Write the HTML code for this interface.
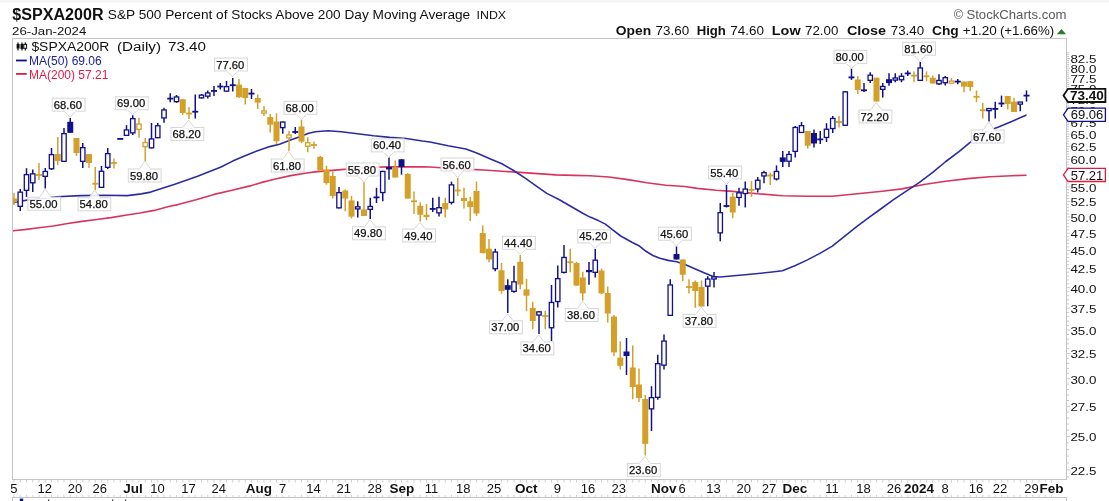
<!DOCTYPE html>
<html><head><meta charset="utf-8"><style>
html,body{margin:0;padding:0;background:#fff;}
body{width:1109px;height:501px;overflow:hidden;}
svg{display:block;filter:blur(0.35px);}
text{font-family:"Liberation Sans",sans-serif;}
.m{font-family:"Liberation Mono",monospace;}
</style></head><body>
<svg width="1109" height="501" viewBox="0 0 1109 501">
<defs><clipPath id="cp"><rect x="13" y="39" width="1053" height="440"/></clipPath></defs>
<rect x="0" y="0" width="1109" height="501" fill="#fff"/>
<rect x="0" y="0" width="1109" height="2.5" fill="#f4f4f4"/>

<text x="12.3" y="19.9" font-size="16" font-weight="bold" textLength="91.2" lengthAdjust="spacingAndGlyphs" fill="#111">$SPXA200R</text>
<text x="107.8" y="18.9" font-size="13" textLength="362.4" lengthAdjust="spacingAndGlyphs" fill="#111">S&amp;P 500 Percent of Stocks Above 200 Day Moving Average</text>
<text x="476.5" y="18.9" font-size="11.3" textLength="29.6" lengthAdjust="spacingAndGlyphs" fill="#111">INDX</text>
<text x="12.1" y="35.3" font-size="11.6" textLength="74.2" lengthAdjust="spacingAndGlyphs" fill="#111">26-Jan-2024</text>
<text x="953.8" y="19.1" font-size="12.5" fill="#5a5a5a">©</text>
<text x="966.4" y="19.1" font-size="13" textLength="100.2" lengthAdjust="spacingAndGlyphs" fill="#5a5a5a">StockCharts.com</text>
<text x="615.8" y="34.9" font-size="13.5" font-weight="bold" textLength="35.4" lengthAdjust="spacingAndGlyphs" fill="#111">Open</text>
<text x="655.6" y="34.9" font-size="13" textLength="33.6" lengthAdjust="spacingAndGlyphs" fill="#111">73.60</text>
<text x="696.7" y="34.9" font-size="13.5" font-weight="bold" textLength="29.2" lengthAdjust="spacingAndGlyphs" fill="#111">High</text>
<text x="730.3" y="34.9" font-size="13" textLength="33.8" lengthAdjust="spacingAndGlyphs" fill="#111">74.60</text>
<text x="771.8" y="34.9" font-size="13.5" font-weight="bold" textLength="28.8" lengthAdjust="spacingAndGlyphs" fill="#111">Low</text>
<text x="805" y="34.9" font-size="13" textLength="33.4" lengthAdjust="spacingAndGlyphs" fill="#111">72.00</text>
<text x="846.9" y="34.9" font-size="13.5" font-weight="bold" textLength="39.2" lengthAdjust="spacingAndGlyphs" fill="#111">Close</text>
<text x="890.8" y="34.9" font-size="13" textLength="33.3" lengthAdjust="spacingAndGlyphs" fill="#111">73.40</text>
<text x="932" y="34.9" font-size="13.5" font-weight="bold" textLength="26.8" lengthAdjust="spacingAndGlyphs" fill="#111">Chg</text>
<text x="962.7" y="34.9" font-size="13" textLength="34.2" lengthAdjust="spacingAndGlyphs" fill="#111">+1.20</text>
<text x="999.9" y="34.9" font-size="13" textLength="54.4" lengthAdjust="spacingAndGlyphs" fill="#111">(+1.66%)</text>
<polygon points="1056.8,34.2 1066.1,34.2 1061.45,29" fill="#2a7a2a"/>
<rect x="12.5" y="38.5" width="1054" height="441" fill="none" stroke="#c4c4c4" stroke-width="1"/>
<line x1="12.5" y1="497" x2="12.5" y2="501" stroke="#c4c4c4"/>
<line x1="1066.5" y1="497" x2="1066.5" y2="501" stroke="#c4c4c4"/>
<line x1="12" y1="497.5" x2="1067" y2="497.5" stroke="#c4c4c4"/>
<path d="M14.00 480v2.5M14.00 495v2.5M20.25 480v2.5M20.25 495v2.5M26.50 480v2.5M26.50 495v2.5M32.75 480v2.5M32.75 495v2.5M39.00 480v2.5M39.00 495v2.5M45.25 480v2.5M45.25 495v2.5M51.50 480v2.5M51.50 495v2.5M57.75 480v2.5M57.75 495v2.5M64.00 480v2.5M64.00 495v2.5M70.25 480v2.5M70.25 495v2.5M76.50 480v2.5M76.50 495v2.5M82.75 480v2.5M82.75 495v2.5M89.00 480v2.5M89.00 495v2.5M95.25 480v2.5M95.25 495v2.5M101.50 480v2.5M101.50 495v2.5M107.75 480v2.5M107.75 495v2.5M114.00 480v2.5M114.00 495v2.5M120.25 480v2.5M120.25 495v2.5M126.50 480v2.5M126.50 495v2.5M132.75 480v2.5M132.75 495v2.5M139.00 480v2.5M139.00 495v2.5M145.25 480v2.5M145.25 495v2.5M151.50 480v2.5M151.50 495v2.5M157.75 480v2.5M157.75 495v2.5M164.00 480v2.5M164.00 495v2.5M170.25 480v2.5M170.25 495v2.5M176.50 480v2.5M176.50 495v2.5M182.75 480v2.5M182.75 495v2.5M189.00 480v2.5M189.00 495v2.5M195.25 480v2.5M195.25 495v2.5M201.50 480v2.5M201.50 495v2.5M207.75 480v2.5M207.75 495v2.5M214.00 480v2.5M214.00 495v2.5M220.25 480v2.5M220.25 495v2.5M226.50 480v2.5M226.50 495v2.5M232.75 480v2.5M232.75 495v2.5M239.00 480v2.5M239.00 495v2.5M245.25 480v2.5M245.25 495v2.5M251.50 480v2.5M251.50 495v2.5M257.75 480v2.5M257.75 495v2.5M264.00 480v2.5M264.00 495v2.5M270.25 480v2.5M270.25 495v2.5M276.50 480v2.5M276.50 495v2.5M282.75 480v2.5M282.75 495v2.5M289.00 480v2.5M289.00 495v2.5M295.25 480v2.5M295.25 495v2.5M301.50 480v2.5M301.50 495v2.5M307.75 480v2.5M307.75 495v2.5M314.00 480v2.5M314.00 495v2.5M320.25 480v2.5M320.25 495v2.5M326.50 480v2.5M326.50 495v2.5M332.75 480v2.5M332.75 495v2.5M339.00 480v2.5M339.00 495v2.5M345.25 480v2.5M345.25 495v2.5M351.50 480v2.5M351.50 495v2.5M357.75 480v2.5M357.75 495v2.5M364.00 480v2.5M364.00 495v2.5M370.25 480v2.5M370.25 495v2.5M376.50 480v2.5M376.50 495v2.5M382.75 480v2.5M382.75 495v2.5M389.00 480v2.5M389.00 495v2.5M395.25 480v2.5M395.25 495v2.5M401.50 480v2.5M401.50 495v2.5M407.75 480v2.5M407.75 495v2.5M414.00 480v2.5M414.00 495v2.5M420.25 480v2.5M420.25 495v2.5M426.50 480v2.5M426.50 495v2.5M432.75 480v2.5M432.75 495v2.5M439.00 480v2.5M439.00 495v2.5M445.25 480v2.5M445.25 495v2.5M451.50 480v2.5M451.50 495v2.5M457.75 480v2.5M457.75 495v2.5M464.00 480v2.5M464.00 495v2.5M470.25 480v2.5M470.25 495v2.5M476.50 480v2.5M476.50 495v2.5M482.75 480v2.5M482.75 495v2.5M489.00 480v2.5M489.00 495v2.5M495.25 480v2.5M495.25 495v2.5M501.50 480v2.5M501.50 495v2.5M507.75 480v2.5M507.75 495v2.5M514.00 480v2.5M514.00 495v2.5M520.25 480v2.5M520.25 495v2.5M526.50 480v2.5M526.50 495v2.5M532.75 480v2.5M532.75 495v2.5M539.00 480v2.5M539.00 495v2.5M545.25 480v2.5M545.25 495v2.5M551.50 480v2.5M551.50 495v2.5M557.75 480v2.5M557.75 495v2.5M564.00 480v2.5M564.00 495v2.5M570.25 480v2.5M570.25 495v2.5M576.50 480v2.5M576.50 495v2.5M582.75 480v2.5M582.75 495v2.5M589.00 480v2.5M589.00 495v2.5M595.25 480v2.5M595.25 495v2.5M601.50 480v2.5M601.50 495v2.5M607.75 480v2.5M607.75 495v2.5M614.00 480v2.5M614.00 495v2.5M620.25 480v2.5M620.25 495v2.5M626.50 480v2.5M626.50 495v2.5M632.75 480v2.5M632.75 495v2.5M639.00 480v2.5M639.00 495v2.5M645.25 480v2.5M645.25 495v2.5M651.50 480v2.5M651.50 495v2.5M657.75 480v2.5M657.75 495v2.5M664.00 480v2.5M664.00 495v2.5M670.25 480v2.5M670.25 495v2.5M676.50 480v2.5M676.50 495v2.5M682.75 480v2.5M682.75 495v2.5M689.00 480v2.5M689.00 495v2.5M695.25 480v2.5M695.25 495v2.5M701.50 480v2.5M701.50 495v2.5M707.75 480v2.5M707.75 495v2.5M714.00 480v2.5M714.00 495v2.5M720.25 480v2.5M720.25 495v2.5M726.50 480v2.5M726.50 495v2.5M732.75 480v2.5M732.75 495v2.5M739.00 480v2.5M739.00 495v2.5M745.25 480v2.5M745.25 495v2.5M751.50 480v2.5M751.50 495v2.5M757.75 480v2.5M757.75 495v2.5M764.00 480v2.5M764.00 495v2.5M770.25 480v2.5M770.25 495v2.5M776.50 480v2.5M776.50 495v2.5M782.75 480v2.5M782.75 495v2.5M789.00 480v2.5M789.00 495v2.5M795.25 480v2.5M795.25 495v2.5M801.50 480v2.5M801.50 495v2.5M807.75 480v2.5M807.75 495v2.5M814.00 480v2.5M814.00 495v2.5M820.25 480v2.5M820.25 495v2.5M826.50 480v2.5M826.50 495v2.5M832.75 480v2.5M832.75 495v2.5M839.00 480v2.5M839.00 495v2.5M845.25 480v2.5M845.25 495v2.5M851.50 480v2.5M851.50 495v2.5M857.75 480v2.5M857.75 495v2.5M864.00 480v2.5M864.00 495v2.5M870.25 480v2.5M870.25 495v2.5M876.50 480v2.5M876.50 495v2.5M882.75 480v2.5M882.75 495v2.5M889.00 480v2.5M889.00 495v2.5M895.25 480v2.5M895.25 495v2.5M901.50 480v2.5M901.50 495v2.5M907.75 480v2.5M907.75 495v2.5M914.00 480v2.5M914.00 495v2.5M920.25 480v2.5M920.25 495v2.5M926.50 480v2.5M926.50 495v2.5M932.75 480v2.5M932.75 495v2.5M939.00 480v2.5M939.00 495v2.5M945.25 480v2.5M945.25 495v2.5M951.50 480v2.5M951.50 495v2.5M957.75 480v2.5M957.75 495v2.5M964.00 480v2.5M964.00 495v2.5M970.25 480v2.5M970.25 495v2.5M976.50 480v2.5M976.50 495v2.5M982.75 480v2.5M982.75 495v2.5M989.00 480v2.5M989.00 495v2.5M995.25 480v2.5M995.25 495v2.5M1001.50 480v2.5M1001.50 495v2.5M1007.75 480v2.5M1007.75 495v2.5M1014.00 480v2.5M1014.00 495v2.5M1020.25 480v2.5M1020.25 495v2.5M1026.50 480v2.5M1026.50 495v2.5M1032.75 480v2.5M1032.75 495v2.5M1039.00 480v2.5M1039.00 495v2.5M1045.25 480v2.5M1045.25 495v2.5M1051.50 480v2.5M1051.50 495v2.5" stroke="#cfcfcf" stroke-width="1" fill="none"/>
<text x="13.9" y="492.5" font-size="13" text-anchor="middle" fill="#111">5</text>
<text x="44.8" y="492.5" font-size="13" text-anchor="middle" fill="#111">12</text>
<text x="74.9" y="492.5" font-size="13" text-anchor="middle" fill="#111">20</text>
<text x="99.7" y="492.5" font-size="13" text-anchor="middle" fill="#111">26</text>
<text x="133" y="492.5" font-size="13.5" font-weight="bold" text-anchor="middle" fill="#111">Jul</text>
<text x="157.5" y="492.5" font-size="13" text-anchor="middle" fill="#111">10</text>
<text x="188.4" y="492.5" font-size="13" text-anchor="middle" fill="#111">17</text>
<text x="218.8" y="492.5" font-size="13" text-anchor="middle" fill="#111">24</text>
<text x="258.8" y="492.5" font-size="13.5" font-weight="bold" text-anchor="middle" fill="#111">Aug</text>
<text x="282.7" y="492.5" font-size="13" text-anchor="middle" fill="#111">7</text>
<text x="313.6" y="492.5" font-size="13" text-anchor="middle" fill="#111">14</text>
<text x="343.8" y="492.5" font-size="13" text-anchor="middle" fill="#111">21</text>
<text x="374.8" y="492.5" font-size="13" text-anchor="middle" fill="#111">28</text>
<text x="401.8" y="492.5" font-size="13.5" font-weight="bold" text-anchor="middle" fill="#111">Sep</text>
<text x="431.6" y="492.5" font-size="13" text-anchor="middle" fill="#111">11</text>
<text x="463.2" y="492.5" font-size="13" text-anchor="middle" fill="#111">18</text>
<text x="494.1" y="492.5" font-size="13" text-anchor="middle" fill="#111">25</text>
<text x="526.3" y="492.5" font-size="13.5" font-weight="bold" text-anchor="middle" fill="#111">Oct</text>
<text x="557.3" y="492.5" font-size="13" text-anchor="middle" fill="#111">9</text>
<text x="588.1" y="492.5" font-size="13" text-anchor="middle" fill="#111">16</text>
<text x="618.7" y="492.5" font-size="13" text-anchor="middle" fill="#111">23</text>
<text x="663.8" y="492.5" font-size="13.5" font-weight="bold" text-anchor="middle" fill="#111">Nov</text>
<text x="682.2" y="492.5" font-size="13" text-anchor="middle" fill="#111">6</text>
<text x="713.4" y="492.5" font-size="13" text-anchor="middle" fill="#111">13</text>
<text x="743.7" y="492.5" font-size="13" text-anchor="middle" fill="#111">20</text>
<text x="768.9" y="492.5" font-size="13" text-anchor="middle" fill="#111">27</text>
<text x="795" y="492.5" font-size="13.5" font-weight="bold" text-anchor="middle" fill="#111">Dec</text>
<text x="832" y="492.5" font-size="13" text-anchor="middle" fill="#111">11</text>
<text x="863.4" y="492.5" font-size="13" text-anchor="middle" fill="#111">18</text>
<text x="894" y="492.5" font-size="13" text-anchor="middle" fill="#111">26</text>
<text x="919.1" y="492.5" font-size="13.5" font-weight="bold" text-anchor="middle" fill="#111">2024</text>
<text x="945.1" y="492.5" font-size="13" text-anchor="middle" fill="#111">8</text>
<text x="975.9" y="492.5" font-size="13" text-anchor="middle" fill="#111">16</text>
<text x="1000" y="492.5" font-size="13" text-anchor="middle" fill="#111">22</text>
<text x="1031.5" y="492.5" font-size="13" text-anchor="middle" fill="#111">29</text>
<text x="1051.4" y="492.5" font-size="13.5" font-weight="bold" text-anchor="middle" fill="#111">Feb</text>
<path d="M1067 476.98h2M1067 469.86h3M1067 462.90h2M1067 456.09h2M1067 449.43h2M1067 442.90h2M1067 436.50h3M1067 430.23h2M1067 424.09h2M1067 418.06h2M1067 412.14h2M1067 406.33h3M1067 400.62h2M1067 395.02h2M1067 389.51h2M1067 384.10h2M1067 378.78h3M1067 373.55h2M1067 368.40h2M1067 363.33h2M1067 358.35h2M1067 353.44h3M1067 348.61h2M1067 343.84h2M1067 339.15h2M1067 334.53h2M1067 329.98h3M1067 325.49h2M1067 321.06h2M1067 316.69h2M1067 312.38h2M1067 308.13h3M1067 303.94h2M1067 299.80h2M1067 295.72h2M1067 291.68h2M1067 287.70h3M1067 283.77h2M1067 279.88h2M1067 276.05h2M1067 272.25h2M1067 268.51h3M1067 264.80h2M1067 261.14h2M1067 257.53h2M1067 253.95h2M1067 250.41h3M1067 246.91h2M1067 243.45h2M1067 240.03h2M1067 236.64h2M1067 233.29h3M1067 229.98h2M1067 226.70h2M1067 223.45h2M1067 220.24h2M1067 217.05h3M1067 213.90h2M1067 210.78h2M1067 207.70h2M1067 204.64h2M1067 201.61h3M1067 198.61h2M1067 195.63h2M1067 192.69h2M1067 189.77h2M1067 186.88h3M1067 184.01h2M1067 181.17h2M1067 178.36h2M1067 175.57h2M1067 172.80h3M1067 170.06h2M1067 167.35h2M1067 164.65h2M1067 161.98h2M1067 159.33h3M1067 156.70h2M1067 154.10h2M1067 151.51h2M1067 148.95h2M1067 146.41h3M1067 143.88h2M1067 141.38h2M1067 138.90h2M1067 136.43h2M1067 133.99h3M1067 131.56h2M1067 129.16h2M1067 126.77h2M1067 124.39h2M1067 122.04h3M1067 119.70h2M1067 117.38h2M1067 115.08h2M1067 112.80h2M1067 110.53h3M1067 108.27h2M1067 106.04h2M1067 103.81h2M1067 101.61h2M1067 99.42h3M1067 97.24h2M1067 95.08h2M1067 92.93h2M1067 90.80h2M1067 88.68h3M1067 86.58h2M1067 84.49h2M1067 82.41h2M1067 80.35h2M1067 78.30h3M1067 76.27h2M1067 74.24h2M1067 72.23h2M1067 70.24h2M1067 68.25h3M1067 66.28h2M1067 64.32h2M1067 62.37h2M1067 60.43h2M1067 58.51h3M1067 56.60h2M1067 54.69h2M1067 52.80h2" stroke="#c8c8c8" stroke-width="1" fill="none"/>
<text x="1070.4" y="474.66" font-size="11.6" textLength="26" lengthAdjust="spacingAndGlyphs" fill="#111">22.5</text>
<text x="1070.4" y="441.30" font-size="11.6" textLength="26" lengthAdjust="spacingAndGlyphs" fill="#111">25.0</text>
<text x="1070.4" y="411.13" font-size="11.6" textLength="26" lengthAdjust="spacingAndGlyphs" fill="#111">27.5</text>
<text x="1070.4" y="383.58" font-size="11.6" textLength="26" lengthAdjust="spacingAndGlyphs" fill="#111">30.0</text>
<text x="1070.4" y="358.24" font-size="11.6" textLength="26" lengthAdjust="spacingAndGlyphs" fill="#111">32.5</text>
<text x="1070.4" y="334.78" font-size="11.6" textLength="26" lengthAdjust="spacingAndGlyphs" fill="#111">35.0</text>
<text x="1070.4" y="312.93" font-size="11.6" textLength="26" lengthAdjust="spacingAndGlyphs" fill="#111">37.5</text>
<text x="1070.4" y="292.50" font-size="11.6" textLength="26" lengthAdjust="spacingAndGlyphs" fill="#111">40.0</text>
<text x="1070.4" y="273.31" font-size="11.6" textLength="26" lengthAdjust="spacingAndGlyphs" fill="#111">42.5</text>
<text x="1070.4" y="255.21" font-size="11.6" textLength="26" lengthAdjust="spacingAndGlyphs" fill="#111">45.0</text>
<text x="1070.4" y="238.09" font-size="11.6" textLength="26" lengthAdjust="spacingAndGlyphs" fill="#111">47.5</text>
<text x="1070.4" y="221.85" font-size="11.6" textLength="26" lengthAdjust="spacingAndGlyphs" fill="#111">50.0</text>
<text x="1070.4" y="206.41" font-size="11.6" textLength="26" lengthAdjust="spacingAndGlyphs" fill="#111">52.5</text>
<text x="1070.4" y="191.68" font-size="11.6" textLength="26" lengthAdjust="spacingAndGlyphs" fill="#111">55.0</text>
<text x="1070.4" y="177.60" font-size="11.6" textLength="26" lengthAdjust="spacingAndGlyphs" fill="#111">57.5</text>
<text x="1070.4" y="164.13" font-size="11.6" textLength="26" lengthAdjust="spacingAndGlyphs" fill="#111">60.0</text>
<text x="1070.4" y="151.21" font-size="11.6" textLength="26" lengthAdjust="spacingAndGlyphs" fill="#111">62.5</text>
<text x="1070.4" y="138.79" font-size="11.6" textLength="26" lengthAdjust="spacingAndGlyphs" fill="#111">65.0</text>
<text x="1070.4" y="126.84" font-size="11.6" textLength="26" lengthAdjust="spacingAndGlyphs" fill="#111">67.5</text>
<text x="1070.4" y="115.33" font-size="11.6" textLength="26" lengthAdjust="spacingAndGlyphs" fill="#111">70.0</text>
<text x="1070.4" y="104.22" font-size="11.6" textLength="26" lengthAdjust="spacingAndGlyphs" fill="#111">72.5</text>
<text x="1070.4" y="93.48" font-size="11.6" textLength="26" lengthAdjust="spacingAndGlyphs" fill="#111">75.0</text>
<text x="1070.4" y="83.10" font-size="11.6" textLength="26" lengthAdjust="spacingAndGlyphs" fill="#111">77.5</text>
<text x="1070.4" y="73.05" font-size="11.6" textLength="26" lengthAdjust="spacingAndGlyphs" fill="#111">80.0</text>
<text x="1070.4" y="63.31" font-size="11.6" textLength="26" lengthAdjust="spacingAndGlyphs" fill="#111">82.5</text>
<g clip-path="url(#cp)">
<polyline points="12.3,230.8 24.4,229.6 38.9,227.8 53.3,226.0 67.7,223.5 82.2,221.4 96.6,219.5 111.0,217.6 125.4,215.2 139.9,213.0 154.3,210.4 168.7,206.5 178.0,204.6 196.1,199.8 214.1,194.4 232.1,190.3 250.2,185.9 260.0,182.9 274.4,179.3 290.6,175.6 306.8,173.0 315.0,171.9 323.0,171.1 341.2,169.6 357.4,168.2 373.6,167.3 389.8,166.9 406.1,166.9 422.3,166.9 430.0,167.0 448.0,168.2 465.9,169.1 483.9,170.0 501.9,171.3 519.8,172.4 537.8,173.6 555.8,174.9 573.8,175.4 590.0,175.8 608.9,177.0 627.9,179.6 646.8,182.7 665.8,185.3 684.7,186.5 697.3,188.4 716.3,190.3 732.5,191.4 757.4,193.7 782.4,195.7 807.4,196.2 832.3,196.2 844.8,195.0 857.3,193.7 882.3,191.2 901.9,188.9 923.9,184.5 945.8,181.2 967.8,178.6 989.7,176.8 1011.7,175.7 1026.5,175.2" fill="none" stroke="#d8345e" stroke-width="1.6" stroke-linejoin="round"/>
<polyline points="12.3,202.8 28.8,199.8 56.9,196.7 80.3,195.6 103.8,195.3 127.2,195.6 141.3,193.9 150.7,192.1 174.1,184.5 197.6,176.3 221.0,167.0 232.7,161.1 244.5,155.9 256.2,151.3 269.7,146.6 279.5,144.2 289.2,140.6 299.0,136.9 308.7,133.3 315.2,131.7 328.2,130.7 341.2,131.7 357.4,133.7 373.6,135.8 389.8,137.4 406.1,138.5 422.3,141.0 430.0,142.0 448.0,145.8 465.9,149.0 476.7,153.0 489.3,158.4 501.9,163.8 512.7,170.0 525.2,178.1 537.8,187.1 546.8,193.4 559.4,199.7 570.2,206.0 582.7,213.2 590.0,217.1 598.4,220.6 605.4,224.1 612.4,229.7 620.7,236.0 631.9,242.2 638.9,245.7 645.9,251.3 652.9,255.5 659.9,258.3 668.2,260.4 676.6,261.8 685.0,264.6 694.8,268.8 704.6,273.0 713.0,276.5 720.0,277.0 745.0,274.8 769.9,272.3 782.4,270.8 794.9,265.8 807.4,259.9 819.9,253.4 832.3,246.1 844.8,236.1 857.3,226.2 869.8,216.9 880.0,209.5 893.2,199.9 906.3,191.1 919.5,182.3 932.7,172.4 945.8,161.5 959.0,151.6 972.2,140.6 985.4,131.8 998.5,127.0 1011.7,121.5 1026.5,114.9" fill="none" stroke="#2c2ca2" stroke-width="1.6" stroke-linejoin="round"/>
<line x1="14.00" y1="192.7" x2="14.00" y2="205.0" stroke="#d4a02a" stroke-width="1.5"/>
<rect x="11.00" y="198.5" width="6" height="4.0" fill="#d4a02a"/>
<line x1="20.25" y1="189.0" x2="20.25" y2="211.0" stroke="#10108c" stroke-width="1.5"/>
<rect x="18.05" y="192.15" width="4.4" height="14.20" fill="#fff" stroke="#10108c" stroke-width="1.3"/>
<line x1="26.50" y1="168.2" x2="26.50" y2="196.9" stroke="#10108c" stroke-width="1.5"/>
<rect x="24.30" y="174.65" width="4.4" height="15.70" fill="#fff" stroke="#10108c" stroke-width="1.3"/>
<line x1="32.75" y1="169.4" x2="32.75" y2="192.0" stroke="#10108c" stroke-width="1.5"/>
<rect x="30.55" y="173.85" width="4.4" height="9.00" fill="#fff" stroke="#10108c" stroke-width="1.3"/>
<line x1="39.00" y1="163.1" x2="39.00" y2="180.0" stroke="#d4a02a" stroke-width="1.5"/>
<rect x="36.00" y="174.1" width="6" height="1.8" fill="#d4a02a"/>
<line x1="45.25" y1="168.0" x2="45.25" y2="188.5" stroke="#10108c" stroke-width="1.5"/>
<rect x="43.05" y="171.45" width="4.4" height="4.90" fill="#fff" stroke="#10108c" stroke-width="1.3"/>
<line x1="51.50" y1="148.0" x2="51.50" y2="170.0" stroke="#10108c" stroke-width="1.5"/>
<rect x="49.30" y="154.65" width="4.4" height="14.10" fill="#fff" stroke="#10108c" stroke-width="1.3"/>
<line x1="57.75" y1="137.0" x2="57.75" y2="165.0" stroke="#d4a02a" stroke-width="1.5"/>
<rect x="54.75" y="154.0" width="6" height="7.0" fill="#d4a02a"/>
<line x1="64.00" y1="128.0" x2="64.00" y2="162.0" stroke="#10108c" stroke-width="1.5"/>
<rect x="61.80" y="133.65" width="4.4" height="27.70" fill="#fff" stroke="#10108c" stroke-width="1.3"/>
<line x1="70.25" y1="118.0" x2="70.25" y2="133.0" stroke="#10108c" stroke-width="1.5"/>
<rect x="67.25" y="121.8" width="6" height="11.0" fill="#10108c"/>
<line x1="76.50" y1="138.0" x2="76.50" y2="156.0" stroke="#d4a02a" stroke-width="1.5"/>
<rect x="73.50" y="138.0" width="6" height="15.0" fill="#d4a02a"/>
<line x1="82.75" y1="143.0" x2="82.75" y2="168.0" stroke="#10108c" stroke-width="1.5"/>
<rect x="80.55" y="147.65" width="4.4" height="13.70" fill="#fff" stroke="#10108c" stroke-width="1.3"/>
<line x1="89.00" y1="154.0" x2="89.00" y2="168.0" stroke="#d4a02a" stroke-width="1.5"/>
<rect x="86.00" y="154.0" width="6" height="9.0" fill="#d4a02a"/>
<line x1="95.25" y1="167.0" x2="95.25" y2="190.0" stroke="#d4a02a" stroke-width="1.5"/>
<rect x="92.25" y="182.8" width="6" height="1.8" fill="#d4a02a"/>
<line x1="101.50" y1="166.0" x2="101.50" y2="188.0" stroke="#10108c" stroke-width="1.5"/>
<rect x="99.30" y="171.25" width="4.4" height="16.10" fill="#fff" stroke="#10108c" stroke-width="1.3"/>
<line x1="107.75" y1="148.0" x2="107.75" y2="169.0" stroke="#10108c" stroke-width="1.5"/>
<rect x="105.55" y="153.65" width="4.4" height="13.70" fill="#fff" stroke="#10108c" stroke-width="1.3"/>
<line x1="114.00" y1="158.6" x2="114.00" y2="168.5" stroke="#d4a02a" stroke-width="1.5"/>
<rect x="111.00" y="162.1" width="6" height="1.8" fill="#d4a02a"/>
<line x1="120.25" y1="138.9" x2="120.25" y2="138.9" stroke="#10108c" stroke-width="1.5"/>
<rect x="117.25" y="138.0" width="6" height="1.8" fill="#10108c"/>
<line x1="126.50" y1="125.1" x2="126.50" y2="136.0" stroke="#10108c" stroke-width="1.5"/>
<rect x="124.30" y="129.95" width="4.4" height="5.40" fill="#fff" stroke="#10108c" stroke-width="1.3"/>
<line x1="132.75" y1="115.3" x2="132.75" y2="135.0" stroke="#10108c" stroke-width="1.5"/>
<rect x="130.55" y="118.65" width="4.4" height="14.20" fill="#fff" stroke="#10108c" stroke-width="1.3"/>
<line x1="139.00" y1="118.0" x2="139.00" y2="137.7" stroke="#d4a02a" stroke-width="1.5"/>
<rect x="136.80" y="124.05" width="4.4" height="5.30" fill="#fff" stroke="#d4a02a" stroke-width="1.3"/>
<line x1="145.25" y1="138.1" x2="145.25" y2="161.0" stroke="#d4a02a" stroke-width="1.5"/>
<rect x="143.05" y="142.55" width="4.4" height="4.10" fill="#fff" stroke="#d4a02a" stroke-width="1.3"/>
<line x1="151.50" y1="123.0" x2="151.50" y2="148.5" stroke="#10108c" stroke-width="1.5"/>
<rect x="149.30" y="138.95" width="4.4" height="8.90" fill="#fff" stroke="#10108c" stroke-width="1.3"/>
<line x1="157.75" y1="123.0" x2="157.75" y2="138.3" stroke="#10108c" stroke-width="1.5"/>
<rect x="155.55" y="125.75" width="4.4" height="11.90" fill="#fff" stroke="#10108c" stroke-width="1.3"/>
<line x1="164.00" y1="107.8" x2="164.00" y2="122.8" stroke="#10108c" stroke-width="1.5"/>
<rect x="161.80" y="109.95" width="4.4" height="8.00" fill="#fff" stroke="#10108c" stroke-width="1.3"/>
<line x1="170.25" y1="93.2" x2="170.25" y2="102.2" stroke="#10108c" stroke-width="1.5"/>
<rect x="167.25" y="97.7" width="6" height="1.8" fill="#10108c"/>
<line x1="176.50" y1="95.0" x2="176.50" y2="102.8" stroke="#10108c" stroke-width="1.5"/>
<rect x="174.30" y="96.95" width="4.4" height="4.70" fill="#fff" stroke="#10108c" stroke-width="1.3"/>
<line x1="182.75" y1="99.0" x2="182.75" y2="114.8" stroke="#d4a02a" stroke-width="1.5"/>
<rect x="179.75" y="99.2" width="6" height="13.8" fill="#d4a02a"/>
<line x1="189.00" y1="107.0" x2="189.00" y2="119.0" stroke="#d4a02a" stroke-width="1.5"/>
<rect x="186.00" y="112.6" width="6" height="1.8" fill="#d4a02a"/>
<line x1="195.25" y1="94.5" x2="195.25" y2="118.4" stroke="#10108c" stroke-width="1.5"/>
<rect x="192.25" y="110.8" width="6" height="1.8" fill="#10108c"/>
<line x1="201.50" y1="94.0" x2="201.50" y2="98.8" stroke="#10108c" stroke-width="1.5"/>
<rect x="199.30" y="95.15" width="4.4" height="2.70" fill="#fff" stroke="#10108c" stroke-width="1.3"/>
<line x1="207.75" y1="90.5" x2="207.75" y2="98.6" stroke="#10108c" stroke-width="1.5"/>
<rect x="205.55" y="92.95" width="4.4" height="3.20" fill="#fff" stroke="#10108c" stroke-width="1.3"/>
<line x1="214.00" y1="86.0" x2="214.00" y2="96.0" stroke="#10108c" stroke-width="1.5"/>
<rect x="211.00" y="90.0" width="6" height="1.8" fill="#10108c"/>
<line x1="220.25" y1="83.0" x2="220.25" y2="89.6" stroke="#10108c" stroke-width="1.5"/>
<rect x="217.25" y="85.6" width="6" height="1.8" fill="#10108c"/>
<line x1="226.50" y1="81.0" x2="226.50" y2="91.8" stroke="#10108c" stroke-width="1.5"/>
<rect x="224.30" y="86.65" width="4.4" height="4.50" fill="#fff" stroke="#10108c" stroke-width="1.3"/>
<line x1="232.75" y1="78.0" x2="232.75" y2="91.5" stroke="#10108c" stroke-width="1.5"/>
<rect x="229.75" y="84.3" width="6" height="1.8" fill="#10108c"/>
<line x1="239.00" y1="79.0" x2="239.00" y2="98.0" stroke="#d4a02a" stroke-width="1.5"/>
<rect x="236.00" y="84.6" width="6" height="12.6" fill="#d4a02a"/>
<line x1="245.25" y1="88.0" x2="245.25" y2="104.4" stroke="#d4a02a" stroke-width="1.5"/>
<rect x="242.25" y="88.0" width="6" height="10.0" fill="#d4a02a"/>
<line x1="251.50" y1="89.0" x2="251.50" y2="99.0" stroke="#10108c" stroke-width="1.5"/>
<rect x="248.50" y="92.7" width="6" height="1.8" fill="#10108c"/>
<line x1="257.75" y1="94.5" x2="257.75" y2="109.0" stroke="#d4a02a" stroke-width="1.5"/>
<rect x="254.75" y="98.0" width="6" height="4.6" fill="#d4a02a"/>
<line x1="264.00" y1="106.0" x2="264.00" y2="116.0" stroke="#d4a02a" stroke-width="1.5"/>
<rect x="261.80" y="111.00" width="4.4" height="2.1" fill="#fff" stroke="#d4a02a" stroke-width="1.3"/>
<line x1="270.25" y1="114.0" x2="270.25" y2="132.5" stroke="#d4a02a" stroke-width="1.5"/>
<rect x="267.25" y="117.0" width="6" height="7.7" fill="#d4a02a"/>
<line x1="276.50" y1="113.4" x2="276.50" y2="144.0" stroke="#d4a02a" stroke-width="1.5"/>
<rect x="273.50" y="121.5" width="6" height="19.7" fill="#d4a02a"/>
<line x1="282.75" y1="121.4" x2="282.75" y2="133.7" stroke="#10108c" stroke-width="1.5"/>
<rect x="280.55" y="122.05" width="4.4" height="5.60" fill="#fff" stroke="#10108c" stroke-width="1.3"/>
<line x1="289.00" y1="130.7" x2="289.00" y2="151.0" stroke="#d4a02a" stroke-width="1.5"/>
<rect x="286.80" y="134.95" width="4.4" height="2.90" fill="#fff" stroke="#d4a02a" stroke-width="1.3"/>
<line x1="295.25" y1="126.9" x2="295.25" y2="134.0" stroke="#10108c" stroke-width="1.5"/>
<rect x="292.25" y="131.1" width="6" height="1.8" fill="#10108c"/>
<line x1="301.50" y1="119.7" x2="301.50" y2="143.0" stroke="#d4a02a" stroke-width="1.5"/>
<rect x="298.50" y="126.5" width="6" height="15.1" fill="#d4a02a"/>
<line x1="307.75" y1="137.3" x2="307.75" y2="152.3" stroke="#d4a02a" stroke-width="1.5"/>
<rect x="305.55" y="142.75" width="4.4" height="3.50" fill="#fff" stroke="#d4a02a" stroke-width="1.3"/>
<line x1="314.00" y1="141.6" x2="314.00" y2="148.7" stroke="#d4a02a" stroke-width="1.5"/>
<rect x="311.00" y="144.1" width="6" height="1.8" fill="#d4a02a"/>
<line x1="320.25" y1="156.0" x2="320.25" y2="170.5" stroke="#d4a02a" stroke-width="1.5"/>
<rect x="317.25" y="156.8" width="6" height="13.7" fill="#d4a02a"/>
<line x1="326.50" y1="165.8" x2="326.50" y2="184.7" stroke="#d4a02a" stroke-width="1.5"/>
<rect x="323.50" y="169.4" width="6" height="13.6" fill="#d4a02a"/>
<line x1="332.75" y1="171.4" x2="332.75" y2="198.6" stroke="#d4a02a" stroke-width="1.5"/>
<rect x="329.75" y="176.0" width="6" height="20.0" fill="#d4a02a"/>
<line x1="339.00" y1="187.0" x2="339.00" y2="208.5" stroke="#10108c" stroke-width="1.5"/>
<rect x="336.80" y="192.65" width="4.4" height="15.20" fill="#fff" stroke="#10108c" stroke-width="1.3"/>
<line x1="345.25" y1="189.6" x2="345.25" y2="211.2" stroke="#d4a02a" stroke-width="1.5"/>
<rect x="342.25" y="190.5" width="6" height="8.1" fill="#d4a02a"/>
<line x1="351.50" y1="196.0" x2="351.50" y2="218.4" stroke="#d4a02a" stroke-width="1.5"/>
<rect x="348.50" y="200.4" width="6" height="16.2" fill="#d4a02a"/>
<line x1="357.75" y1="201.3" x2="357.75" y2="217.5" stroke="#10108c" stroke-width="1.5"/>
<rect x="355.55" y="206.80" width="4.4" height="2.1" fill="#fff" stroke="#10108c" stroke-width="1.3"/>
<line x1="364.00" y1="182.3" x2="364.00" y2="216.0" stroke="#d4a02a" stroke-width="1.5"/>
<rect x="361.00" y="209.4" width="6" height="6.6" fill="#d4a02a"/>
<line x1="370.25" y1="197.7" x2="370.25" y2="219.0" stroke="#10108c" stroke-width="1.5"/>
<rect x="368.05" y="206.45" width="4.4" height="2.90" fill="#fff" stroke="#10108c" stroke-width="1.3"/>
<line x1="376.50" y1="187.8" x2="376.50" y2="203.0" stroke="#10108c" stroke-width="1.5"/>
<rect x="373.50" y="196.5" width="6" height="1.8" fill="#10108c"/>
<line x1="382.75" y1="170.8" x2="382.75" y2="201.3" stroke="#10108c" stroke-width="1.5"/>
<rect x="380.55" y="171.45" width="4.4" height="21.10" fill="#fff" stroke="#10108c" stroke-width="1.3"/>
<line x1="389.00" y1="157.4" x2="389.00" y2="179.8" stroke="#10108c" stroke-width="1.5"/>
<rect x="386.00" y="167.0" width="6" height="2.4" fill="#10108c"/>
<line x1="395.25" y1="160.4" x2="395.25" y2="177.6" stroke="#d4a02a" stroke-width="1.5"/>
<rect x="392.25" y="167.6" width="6" height="9.9" fill="#d4a02a"/>
<line x1="401.50" y1="159.0" x2="401.50" y2="174.6" stroke="#10108c" stroke-width="1.5"/>
<rect x="398.50" y="159.3" width="6" height="7.7" fill="#10108c"/>
<line x1="407.75" y1="173.0" x2="407.75" y2="198.6" stroke="#d4a02a" stroke-width="1.5"/>
<rect x="404.75" y="174.0" width="6" height="24.6" fill="#d4a02a"/>
<line x1="414.00" y1="191.4" x2="414.00" y2="213.9" stroke="#d4a02a" stroke-width="1.5"/>
<rect x="411.00" y="200.4" width="6" height="1.8" fill="#d4a02a"/>
<line x1="420.25" y1="202.2" x2="420.25" y2="221.5" stroke="#d4a02a" stroke-width="1.5"/>
<rect x="417.25" y="205.8" width="6" height="9.0" fill="#d4a02a"/>
<line x1="426.50" y1="204.0" x2="426.50" y2="220.2" stroke="#d4a02a" stroke-width="1.5"/>
<rect x="423.50" y="214.8" width="6" height="2.2" fill="#d4a02a"/>
<line x1="432.75" y1="197.7" x2="432.75" y2="212.0" stroke="#10108c" stroke-width="1.5"/>
<rect x="429.75" y="208.0" width="6" height="1.8" fill="#10108c"/>
<line x1="439.00" y1="196.8" x2="439.00" y2="216.6" stroke="#10108c" stroke-width="1.5"/>
<rect x="436.80" y="207.65" width="4.4" height="5.20" fill="#fff" stroke="#10108c" stroke-width="1.3"/>
<line x1="445.25" y1="197.7" x2="445.25" y2="217.5" stroke="#d4a02a" stroke-width="1.5"/>
<rect x="442.25" y="203.0" width="6" height="6.4" fill="#d4a02a"/>
<line x1="451.50" y1="181.6" x2="451.50" y2="204.5" stroke="#10108c" stroke-width="1.5"/>
<rect x="449.30" y="184.85" width="4.4" height="17.50" fill="#fff" stroke="#10108c" stroke-width="1.3"/>
<line x1="457.75" y1="178.0" x2="457.75" y2="196.0" stroke="#d4a02a" stroke-width="1.5"/>
<rect x="454.75" y="189.6" width="6" height="1.8" fill="#d4a02a"/>
<line x1="464.00" y1="187.8" x2="464.00" y2="208.5" stroke="#d4a02a" stroke-width="1.5"/>
<rect x="461.00" y="198.0" width="6" height="3.0" fill="#d4a02a"/>
<line x1="470.25" y1="196.8" x2="470.25" y2="221.0" stroke="#d4a02a" stroke-width="1.5"/>
<rect x="467.25" y="201.3" width="6" height="5.7" fill="#d4a02a"/>
<line x1="476.50" y1="181.6" x2="476.50" y2="216.0" stroke="#d4a02a" stroke-width="1.5"/>
<rect x="473.50" y="191.0" width="6" height="22.5" fill="#d4a02a"/>
<line x1="482.75" y1="225.5" x2="482.75" y2="253.2" stroke="#d4a02a" stroke-width="1.5"/>
<rect x="479.75" y="233.0" width="6" height="20.2" fill="#d4a02a"/>
<line x1="489.00" y1="238.9" x2="489.00" y2="262.2" stroke="#d4a02a" stroke-width="1.5"/>
<rect x="486.00" y="248.7" width="6" height="10.8" fill="#d4a02a"/>
<line x1="495.25" y1="248.7" x2="495.25" y2="271.2" stroke="#10108c" stroke-width="1.5"/>
<rect x="493.05" y="252.05" width="4.4" height="16.70" fill="#fff" stroke="#10108c" stroke-width="1.3"/>
<line x1="501.50" y1="263.0" x2="501.50" y2="293.6" stroke="#d4a02a" stroke-width="1.5"/>
<rect x="498.50" y="270.3" width="6" height="20.7" fill="#d4a02a"/>
<line x1="507.75" y1="279.3" x2="507.75" y2="313.0" stroke="#10108c" stroke-width="1.5"/>
<rect x="504.75" y="285.2" width="6" height="4.6" fill="#10108c"/>
<line x1="514.00" y1="265.8" x2="514.00" y2="292.7" stroke="#10108c" stroke-width="1.5"/>
<rect x="511.80" y="281.85" width="4.4" height="9.50" fill="#fff" stroke="#10108c" stroke-width="1.3"/>
<line x1="520.25" y1="255.0" x2="520.25" y2="289.2" stroke="#d4a02a" stroke-width="1.5"/>
<rect x="517.25" y="261.8" width="6" height="22.7" fill="#d4a02a"/>
<line x1="526.50" y1="278.9" x2="526.50" y2="311.2" stroke="#d4a02a" stroke-width="1.5"/>
<rect x="523.50" y="289.4" width="6" height="6.3" fill="#d4a02a"/>
<line x1="532.75" y1="301.7" x2="532.75" y2="329.2" stroke="#d4a02a" stroke-width="1.5"/>
<rect x="529.75" y="308.0" width="6" height="13.0" fill="#d4a02a"/>
<line x1="539.00" y1="311.0" x2="539.00" y2="334.0" stroke="#10108c" stroke-width="1.5"/>
<rect x="536.80" y="311.85" width="4.4" height="3.20" fill="#fff" stroke="#10108c" stroke-width="1.3"/>
<line x1="545.25" y1="311.0" x2="545.25" y2="329.0" stroke="#d4a02a" stroke-width="1.5"/>
<rect x="542.25" y="315.1" width="6" height="1.8" fill="#d4a02a"/>
<line x1="551.50" y1="285.0" x2="551.50" y2="341.0" stroke="#10108c" stroke-width="1.5"/>
<rect x="549.30" y="302.45" width="4.4" height="25.30" fill="#fff" stroke="#10108c" stroke-width="1.3"/>
<line x1="557.75" y1="265.4" x2="557.75" y2="307.6" stroke="#10108c" stroke-width="1.5"/>
<rect x="555.55" y="278.65" width="4.4" height="22.90" fill="#fff" stroke="#10108c" stroke-width="1.3"/>
<line x1="564.00" y1="245.1" x2="564.00" y2="273.5" stroke="#10108c" stroke-width="1.5"/>
<rect x="561.80" y="257.45" width="4.4" height="14.90" fill="#fff" stroke="#10108c" stroke-width="1.3"/>
<line x1="570.25" y1="248.7" x2="570.25" y2="272.3" stroke="#d4a02a" stroke-width="1.5"/>
<rect x="567.25" y="261.3" width="6" height="1.8" fill="#d4a02a"/>
<line x1="576.50" y1="262.0" x2="576.50" y2="286.0" stroke="#d4a02a" stroke-width="1.5"/>
<rect x="573.50" y="263.0" width="6" height="22.6" fill="#d4a02a"/>
<line x1="582.75" y1="271.7" x2="582.75" y2="300.5" stroke="#d4a02a" stroke-width="1.5"/>
<rect x="579.75" y="277.5" width="6" height="15.9" fill="#d4a02a"/>
<line x1="589.00" y1="262.0" x2="589.00" y2="284.8" stroke="#10108c" stroke-width="1.5"/>
<rect x="586.00" y="270.0" width="6" height="2.2" fill="#10108c"/>
<line x1="595.25" y1="249.0" x2="595.25" y2="277.5" stroke="#10108c" stroke-width="1.5"/>
<rect x="593.05" y="260.15" width="4.4" height="12.20" fill="#fff" stroke="#10108c" stroke-width="1.3"/>
<line x1="601.50" y1="268.5" x2="601.50" y2="294.0" stroke="#d4a02a" stroke-width="1.5"/>
<rect x="598.50" y="270.5" width="6" height="22.9" fill="#d4a02a"/>
<line x1="607.75" y1="286.5" x2="607.75" y2="322.5" stroke="#d4a02a" stroke-width="1.5"/>
<rect x="604.75" y="293.0" width="6" height="20.5" fill="#d4a02a"/>
<line x1="614.00" y1="315.0" x2="614.00" y2="356.0" stroke="#d4a02a" stroke-width="1.5"/>
<rect x="611.00" y="316.5" width="6" height="35.9" fill="#d4a02a"/>
<line x1="620.25" y1="341.2" x2="620.25" y2="369.6" stroke="#d4a02a" stroke-width="1.5"/>
<rect x="617.25" y="357.7" width="6" height="8.1" fill="#d4a02a"/>
<line x1="626.50" y1="338.0" x2="626.50" y2="375.0" stroke="#10108c" stroke-width="1.5"/>
<rect x="623.50" y="351.5" width="6" height="4.5" fill="#10108c"/>
<line x1="632.75" y1="345.4" x2="632.75" y2="399.3" stroke="#d4a02a" stroke-width="1.5"/>
<rect x="629.75" y="367.5" width="6" height="19.5" fill="#d4a02a"/>
<line x1="639.00" y1="368.5" x2="639.00" y2="402.0" stroke="#d4a02a" stroke-width="1.5"/>
<rect x="636.00" y="384.5" width="6" height="13.5" fill="#d4a02a"/>
<line x1="645.25" y1="395.0" x2="645.25" y2="455.5" stroke="#d4a02a" stroke-width="1.5"/>
<rect x="642.25" y="399.0" width="6" height="44.9" fill="#d4a02a"/>
<line x1="651.50" y1="386.2" x2="651.50" y2="431.0" stroke="#10108c" stroke-width="1.5"/>
<rect x="649.30" y="397.65" width="4.4" height="11.20" fill="#fff" stroke="#10108c" stroke-width="1.3"/>
<line x1="657.75" y1="354.8" x2="657.75" y2="399.8" stroke="#10108c" stroke-width="1.5"/>
<rect x="655.55" y="363.65" width="4.4" height="33.70" fill="#fff" stroke="#10108c" stroke-width="1.3"/>
<line x1="664.00" y1="334.4" x2="664.00" y2="369.6" stroke="#10108c" stroke-width="1.5"/>
<rect x="661.80" y="341.05" width="4.4" height="24.10" fill="#fff" stroke="#10108c" stroke-width="1.3"/>
<line x1="670.25" y1="279.3" x2="670.25" y2="316.0" stroke="#10108c" stroke-width="1.5"/>
<rect x="668.05" y="284.95" width="4.4" height="30.40" fill="#fff" stroke="#10108c" stroke-width="1.3"/>
<line x1="676.50" y1="246.4" x2="676.50" y2="259.5" stroke="#10108c" stroke-width="1.5"/>
<rect x="673.50" y="254.0" width="6" height="5.5" fill="#10108c"/>
<line x1="682.75" y1="259.5" x2="682.75" y2="281.0" stroke="#d4a02a" stroke-width="1.5"/>
<rect x="679.75" y="259.5" width="6" height="15.3" fill="#d4a02a"/>
<line x1="689.00" y1="279.3" x2="689.00" y2="293.6" stroke="#d4a02a" stroke-width="1.5"/>
<rect x="686.00" y="286.1" width="6" height="1.8" fill="#d4a02a"/>
<line x1="695.25" y1="280.5" x2="695.25" y2="307.7" stroke="#d4a02a" stroke-width="1.5"/>
<rect x="692.25" y="282.0" width="6" height="9.0" fill="#d4a02a"/>
<line x1="701.50" y1="280.5" x2="701.50" y2="306.5" stroke="#d4a02a" stroke-width="1.5"/>
<rect x="698.50" y="287.0" width="6" height="19.5" fill="#d4a02a"/>
<line x1="707.75" y1="276.3" x2="707.75" y2="306.3" stroke="#10108c" stroke-width="1.5"/>
<rect x="705.55" y="279.05" width="4.4" height="7.10" fill="#fff" stroke="#10108c" stroke-width="1.3"/>
<line x1="714.00" y1="272.0" x2="714.00" y2="287.4" stroke="#10108c" stroke-width="1.5"/>
<rect x="711.80" y="276.90" width="4.4" height="2.1" fill="#fff" stroke="#10108c" stroke-width="1.3"/>
<line x1="720.25" y1="203.0" x2="720.25" y2="241.2" stroke="#10108c" stroke-width="1.5"/>
<rect x="718.05" y="212.65" width="4.4" height="20.20" fill="#fff" stroke="#10108c" stroke-width="1.3"/>
<line x1="726.50" y1="184.8" x2="726.50" y2="207.5" stroke="#10108c" stroke-width="1.5"/>
<rect x="723.50" y="205.1" width="6" height="1.8" fill="#10108c"/>
<line x1="732.75" y1="193.0" x2="732.75" y2="218.3" stroke="#d4a02a" stroke-width="1.5"/>
<rect x="729.75" y="196.7" width="6" height="15.8" fill="#d4a02a"/>
<line x1="739.00" y1="187.7" x2="739.00" y2="205.7" stroke="#10108c" stroke-width="1.5"/>
<rect x="736.80" y="192.85" width="4.4" height="4.60" fill="#fff" stroke="#10108c" stroke-width="1.3"/>
<line x1="745.25" y1="181.4" x2="745.25" y2="207.5" stroke="#10108c" stroke-width="1.5"/>
<rect x="743.05" y="189.05" width="4.4" height="4.50" fill="#fff" stroke="#10108c" stroke-width="1.3"/>
<line x1="751.50" y1="181.0" x2="751.50" y2="197.0" stroke="#d4a02a" stroke-width="1.5"/>
<rect x="748.50" y="189.0" width="6" height="1.8" fill="#d4a02a"/>
<line x1="757.75" y1="177.0" x2="757.75" y2="192.6" stroke="#10108c" stroke-width="1.5"/>
<rect x="755.55" y="180.25" width="4.4" height="8.70" fill="#fff" stroke="#10108c" stroke-width="1.3"/>
<line x1="764.00" y1="170.7" x2="764.00" y2="183.2" stroke="#10108c" stroke-width="1.5"/>
<rect x="761.80" y="172.65" width="4.4" height="3.30" fill="#fff" stroke="#10108c" stroke-width="1.3"/>
<line x1="770.25" y1="172.5" x2="770.25" y2="185.0" stroke="#d4a02a" stroke-width="1.5"/>
<rect x="767.25" y="174.6" width="6" height="1.8" fill="#d4a02a"/>
<line x1="776.50" y1="165.4" x2="776.50" y2="180.5" stroke="#10108c" stroke-width="1.5"/>
<rect x="774.30" y="171.45" width="4.4" height="7.50" fill="#fff" stroke="#10108c" stroke-width="1.3"/>
<line x1="782.75" y1="151.0" x2="782.75" y2="167.0" stroke="#10108c" stroke-width="1.5"/>
<rect x="779.75" y="157.4" width="6" height="4.5" fill="#10108c"/>
<line x1="789.00" y1="151.0" x2="789.00" y2="167.0" stroke="#10108c" stroke-width="1.5"/>
<rect x="786.80" y="154.45" width="4.4" height="6.80" fill="#fff" stroke="#10108c" stroke-width="1.3"/>
<line x1="795.25" y1="126.0" x2="795.25" y2="157.4" stroke="#10108c" stroke-width="1.5"/>
<rect x="793.05" y="127.45" width="4.4" height="23.90" fill="#fff" stroke="#10108c" stroke-width="1.3"/>
<line x1="801.50" y1="122.0" x2="801.50" y2="133.0" stroke="#10108c" stroke-width="1.5"/>
<rect x="799.30" y="125.65" width="4.4" height="6.80" fill="#fff" stroke="#10108c" stroke-width="1.3"/>
<line x1="807.75" y1="131.0" x2="807.75" y2="148.4" stroke="#d4a02a" stroke-width="1.5"/>
<rect x="804.75" y="131.0" width="6" height="14.7" fill="#d4a02a"/>
<line x1="814.00" y1="129.5" x2="814.00" y2="147.5" stroke="#10108c" stroke-width="1.5"/>
<rect x="811.00" y="133.0" width="6" height="10.5" fill="#10108c"/>
<line x1="820.25" y1="131.0" x2="820.25" y2="144.0" stroke="#10108c" stroke-width="1.5"/>
<rect x="817.25" y="138.5" width="6" height="1.8" fill="#10108c"/>
<line x1="826.50" y1="123.2" x2="826.50" y2="142.0" stroke="#10108c" stroke-width="1.5"/>
<rect x="824.30" y="129.25" width="4.4" height="8.20" fill="#fff" stroke="#10108c" stroke-width="1.3"/>
<line x1="832.75" y1="116.0" x2="832.75" y2="133.1" stroke="#10108c" stroke-width="1.5"/>
<rect x="830.55" y="118.45" width="4.4" height="10.10" fill="#fff" stroke="#10108c" stroke-width="1.3"/>
<line x1="839.00" y1="116.0" x2="839.00" y2="127.4" stroke="#d4a02a" stroke-width="1.5"/>
<rect x="836.00" y="121.1" width="6" height="1.8" fill="#d4a02a"/>
<line x1="845.25" y1="91.0" x2="845.25" y2="125.9" stroke="#10108c" stroke-width="1.5"/>
<rect x="843.05" y="91.85" width="4.4" height="33.40" fill="#fff" stroke="#10108c" stroke-width="1.3"/>
<line x1="851.50" y1="68.5" x2="851.50" y2="79.9" stroke="#10108c" stroke-width="1.5"/>
<rect x="848.50" y="76.5" width="6" height="1.8" fill="#10108c"/>
<line x1="857.75" y1="76.0" x2="857.75" y2="94.0" stroke="#d4a02a" stroke-width="1.5"/>
<rect x="854.75" y="79.5" width="6" height="10.5" fill="#d4a02a"/>
<line x1="864.00" y1="83.0" x2="864.00" y2="92.0" stroke="#10108c" stroke-width="1.5"/>
<rect x="861.00" y="89.4" width="6" height="1.8" fill="#10108c"/>
<line x1="870.25" y1="72.3" x2="870.25" y2="83.0" stroke="#10108c" stroke-width="1.5"/>
<rect x="868.05" y="75.15" width="4.4" height="5.20" fill="#fff" stroke="#10108c" stroke-width="1.3"/>
<line x1="876.50" y1="77.7" x2="876.50" y2="101.5" stroke="#d4a02a" stroke-width="1.5"/>
<rect x="873.50" y="77.7" width="6" height="23.8" fill="#d4a02a"/>
<line x1="882.75" y1="83.0" x2="882.75" y2="97.5" stroke="#10108c" stroke-width="1.5"/>
<rect x="880.55" y="86.45" width="4.4" height="2.90" fill="#fff" stroke="#10108c" stroke-width="1.3"/>
<line x1="889.00" y1="73.2" x2="889.00" y2="85.8" stroke="#10108c" stroke-width="1.5"/>
<rect x="886.00" y="79.2" width="6" height="3.9" fill="#10108c"/>
<line x1="895.25" y1="73.2" x2="895.25" y2="82.2" stroke="#10108c" stroke-width="1.5"/>
<rect x="893.05" y="78.00" width="4.4" height="2.1" fill="#fff" stroke="#10108c" stroke-width="1.3"/>
<line x1="901.50" y1="73.2" x2="901.50" y2="82.2" stroke="#10108c" stroke-width="1.5"/>
<rect x="899.30" y="76.25" width="4.4" height="3.50" fill="#fff" stroke="#10108c" stroke-width="1.3"/>
<line x1="907.75" y1="70.5" x2="907.75" y2="76.0" stroke="#10108c" stroke-width="1.5"/>
<rect x="904.75" y="72.5" width="6" height="1.8" fill="#10108c"/>
<line x1="914.00" y1="71.4" x2="914.00" y2="82.2" stroke="#d4a02a" stroke-width="1.5"/>
<rect x="911.00" y="74.7" width="6" height="1.8" fill="#d4a02a"/>
<line x1="920.25" y1="62.0" x2="920.25" y2="81.0" stroke="#10108c" stroke-width="1.5"/>
<rect x="918.05" y="67.95" width="4.4" height="12.40" fill="#fff" stroke="#10108c" stroke-width="1.3"/>
<line x1="926.50" y1="71.4" x2="926.50" y2="81.3" stroke="#d4a02a" stroke-width="1.5"/>
<rect x="923.50" y="75.4" width="6" height="1.8" fill="#d4a02a"/>
<line x1="932.75" y1="75.5" x2="932.75" y2="83.5" stroke="#d4a02a" stroke-width="1.5"/>
<rect x="929.75" y="77.7" width="6" height="5.8" fill="#d4a02a"/>
<line x1="939.00" y1="74.2" x2="939.00" y2="85.1" stroke="#10108c" stroke-width="1.5"/>
<rect x="936.80" y="80.45" width="4.4" height="3.40" fill="#fff" stroke="#10108c" stroke-width="1.3"/>
<line x1="945.25" y1="76.0" x2="945.25" y2="85.5" stroke="#10108c" stroke-width="1.5"/>
<rect x="943.05" y="77.65" width="4.4" height="5.10" fill="#fff" stroke="#10108c" stroke-width="1.3"/>
<line x1="951.50" y1="78.0" x2="951.50" y2="83.4" stroke="#d4a02a" stroke-width="1.5"/>
<rect x="949.30" y="81.05" width="4.4" height="2.1" fill="#fff" stroke="#d4a02a" stroke-width="1.3"/>
<line x1="957.75" y1="78.9" x2="957.75" y2="84.2" stroke="#10108c" stroke-width="1.5"/>
<rect x="954.75" y="80.7" width="6" height="1.8" fill="#10108c"/>
<line x1="964.00" y1="81.6" x2="964.00" y2="92.3" stroke="#d4a02a" stroke-width="1.5"/>
<rect x="961.00" y="81.6" width="6" height="5.0" fill="#d4a02a"/>
<line x1="970.25" y1="81.2" x2="970.25" y2="90.9" stroke="#d4a02a" stroke-width="1.5"/>
<rect x="967.25" y="81.2" width="6" height="5.8" fill="#d4a02a"/>
<line x1="976.50" y1="90.5" x2="976.50" y2="102.2" stroke="#d4a02a" stroke-width="1.5"/>
<rect x="973.50" y="95.9" width="6" height="1.8" fill="#d4a02a"/>
<line x1="982.75" y1="103.0" x2="982.75" y2="118.4" stroke="#d4a02a" stroke-width="1.5"/>
<rect x="979.75" y="109.4" width="6" height="1.8" fill="#d4a02a"/>
<line x1="989.00" y1="108.5" x2="989.00" y2="121.5" stroke="#10108c" stroke-width="1.5"/>
<rect x="986.80" y="108.55" width="4.4" height="2.1" fill="#fff" stroke="#10108c" stroke-width="1.3"/>
<line x1="995.25" y1="101.7" x2="995.25" y2="118.4" stroke="#10108c" stroke-width="1.5"/>
<rect x="992.25" y="108.0" width="6" height="1.8" fill="#10108c"/>
<line x1="1001.50" y1="95.6" x2="1001.50" y2="107.0" stroke="#10108c" stroke-width="1.5"/>
<rect x="998.50" y="102.6" width="6" height="1.8" fill="#10108c"/>
<line x1="1007.75" y1="96.0" x2="1007.75" y2="109.4" stroke="#d4a02a" stroke-width="1.5"/>
<rect x="1004.75" y="96.0" width="6" height="8.0" fill="#d4a02a"/>
<line x1="1014.00" y1="97.7" x2="1014.00" y2="112.0" stroke="#d4a02a" stroke-width="1.5"/>
<rect x="1011.00" y="101.7" width="6" height="10.3" fill="#d4a02a"/>
<line x1="1020.25" y1="102.2" x2="1020.25" y2="111.2" stroke="#10108c" stroke-width="1.5"/>
<rect x="1018.05" y="102.05" width="4.4" height="2.1" fill="#fff" stroke="#10108c" stroke-width="1.3"/>
<line x1="1026.50" y1="90.4" x2="1026.50" y2="101.6" stroke="#10108c" stroke-width="1.5"/>
<rect x="1023.50" y="94.7" width="6" height="1.8" fill="#10108c"/>
<rect x="27.8" y="197.2" width="32.8" height="13" fill="#fff" fill-opacity="0.85" stroke="#d6d6d6" stroke-width="1"/>
<polygon points="39.2,197.7 45.2,188.8 51.2,197.7" fill="#fff" fill-opacity="0.85" stroke="#d6d6d6" stroke-width="1"/>
<rect x="39.7" y="196.6" width="11" height="1.6" fill="#fff"/>
<text x="29.4" y="207.7" font-size="11.2" textLength="28.2" lengthAdjust="spacingAndGlyphs" fill="#111" stroke="#111" stroke-width="0.25">55.00</text>
<rect x="78.0" y="197.8" width="32.8" height="13" fill="#fff" fill-opacity="0.85" stroke="#d6d6d6" stroke-width="1"/>
<polygon points="88.7,198.3 94.7,190.0 100.7,198.3" fill="#fff" fill-opacity="0.85" stroke="#d6d6d6" stroke-width="1"/>
<rect x="89.2" y="197.2" width="11" height="1.6" fill="#fff"/>
<text x="79.6" y="208.3" font-size="11.2" textLength="28.2" lengthAdjust="spacingAndGlyphs" fill="#111" stroke="#111" stroke-width="0.25">54.80</text>
<rect x="52.2" y="98.2" width="32.8" height="13" fill="#fff" fill-opacity="0.85" stroke="#d6d6d6" stroke-width="1"/>
<polygon points="64.0,110.7 70.0,117.6 76.0,110.7" fill="#fff" fill-opacity="0.85" stroke="#d6d6d6" stroke-width="1"/>
<rect x="64.5" y="110.2" width="11" height="1.6" fill="#fff"/>
<text x="53.8" y="108.7" font-size="11.2" textLength="28.2" lengthAdjust="spacingAndGlyphs" fill="#111" stroke="#111" stroke-width="0.25">68.60</text>
<rect x="115.4" y="96.8" width="32.8" height="13" fill="#fff" fill-opacity="0.85" stroke="#d6d6d6" stroke-width="1"/>
<polygon points="126.6,109.3 132.6,114.5 138.6,109.3" fill="#fff" fill-opacity="0.85" stroke="#d6d6d6" stroke-width="1"/>
<rect x="127.1" y="108.8" width="11" height="1.6" fill="#fff"/>
<text x="117.0" y="107.3" font-size="11.2" textLength="28.2" lengthAdjust="spacingAndGlyphs" fill="#111" stroke="#111" stroke-width="0.25">69.00</text>
<rect x="128.3" y="169.0" width="32.8" height="13" fill="#fff" fill-opacity="0.85" stroke="#d6d6d6" stroke-width="1"/>
<polygon points="139.0,169.5 145.0,161.0 151.0,169.5" fill="#fff" fill-opacity="0.85" stroke="#d6d6d6" stroke-width="1"/>
<rect x="139.5" y="168.4" width="11" height="1.6" fill="#fff"/>
<text x="129.9" y="179.5" font-size="11.2" textLength="28.2" lengthAdjust="spacingAndGlyphs" fill="#111" stroke="#111" stroke-width="0.25">59.80</text>
<rect x="171.0" y="127.4" width="32.8" height="13" fill="#fff" fill-opacity="0.85" stroke="#d6d6d6" stroke-width="1"/>
<polygon points="182.5,127.9 188.5,120.0 194.5,127.9" fill="#fff" fill-opacity="0.85" stroke="#d6d6d6" stroke-width="1"/>
<rect x="183.0" y="126.8" width="11" height="1.6" fill="#fff"/>
<text x="172.6" y="137.9" font-size="11.2" textLength="28.2" lengthAdjust="spacingAndGlyphs" fill="#111" stroke="#111" stroke-width="0.25">68.20</text>
<rect x="214.6" y="58.0" width="32.8" height="13" fill="#fff" fill-opacity="0.85" stroke="#d6d6d6" stroke-width="1"/>
<polygon points="226.4,70.5 232.4,76.5 238.4,70.5" fill="#fff" fill-opacity="0.85" stroke="#d6d6d6" stroke-width="1"/>
<rect x="226.9" y="70.0" width="11" height="1.6" fill="#fff"/>
<text x="216.2" y="68.5" font-size="11.2" textLength="28.2" lengthAdjust="spacingAndGlyphs" fill="#111" stroke="#111" stroke-width="0.25">77.60</text>
<rect x="271.3" y="159.0" width="32.8" height="13" fill="#fff" fill-opacity="0.85" stroke="#d6d6d6" stroke-width="1"/>
<polygon points="282.5,159.5 288.5,151.5 294.5,159.5" fill="#fff" fill-opacity="0.85" stroke="#d6d6d6" stroke-width="1"/>
<rect x="283.0" y="158.4" width="11" height="1.6" fill="#fff"/>
<text x="272.9" y="169.5" font-size="11.2" textLength="28.2" lengthAdjust="spacingAndGlyphs" fill="#111" stroke="#111" stroke-width="0.25">61.80</text>
<rect x="284.0" y="101.3" width="32.8" height="13" fill="#fff" fill-opacity="0.85" stroke="#d6d6d6" stroke-width="1"/>
<polygon points="295.4,113.8 301.4,119.5 307.4,113.8" fill="#fff" fill-opacity="0.85" stroke="#d6d6d6" stroke-width="1"/>
<rect x="295.9" y="113.3" width="11" height="1.6" fill="#fff"/>
<text x="285.6" y="111.8" font-size="11.2" textLength="28.2" lengthAdjust="spacingAndGlyphs" fill="#111" stroke="#111" stroke-width="0.25">68.00</text>
<rect x="346.2" y="163.0" width="32.8" height="13" fill="#fff" fill-opacity="0.85" stroke="#d6d6d6" stroke-width="1"/>
<polygon points="357.7,175.5 363.7,182.0 369.7,175.5" fill="#fff" fill-opacity="0.85" stroke="#d6d6d6" stroke-width="1"/>
<rect x="358.2" y="175.0" width="11" height="1.6" fill="#fff"/>
<text x="347.8" y="173.5" font-size="11.2" textLength="28.2" lengthAdjust="spacingAndGlyphs" fill="#111" stroke="#111" stroke-width="0.25">55.80</text>
<rect x="371.3" y="138.9" width="32.8" height="13" fill="#fff" fill-opacity="0.85" stroke="#d6d6d6" stroke-width="1"/>
<polygon points="382.7,151.4 388.7,157.2 394.7,151.4" fill="#fff" fill-opacity="0.85" stroke="#d6d6d6" stroke-width="1"/>
<rect x="383.2" y="150.9" width="11" height="1.6" fill="#fff"/>
<text x="372.9" y="149.4" font-size="11.2" textLength="28.2" lengthAdjust="spacingAndGlyphs" fill="#111" stroke="#111" stroke-width="0.25">60.40</text>
<rect x="352.5" y="226.8" width="32.8" height="13" fill="#fff" fill-opacity="0.85" stroke="#d6d6d6" stroke-width="1"/>
<polygon points="364.0,227.3 370.0,219.5 376.0,227.3" fill="#fff" fill-opacity="0.85" stroke="#d6d6d6" stroke-width="1"/>
<rect x="364.5" y="226.2" width="11" height="1.6" fill="#fff"/>
<text x="354.1" y="237.3" font-size="11.2" textLength="28.2" lengthAdjust="spacingAndGlyphs" fill="#111" stroke="#111" stroke-width="0.25">49.80</text>
<rect x="402.7" y="229.0" width="32.8" height="13" fill="#fff" fill-opacity="0.85" stroke="#d6d6d6" stroke-width="1"/>
<polygon points="413.8,229.5 419.8,222.5 425.8,229.5" fill="#fff" fill-opacity="0.85" stroke="#d6d6d6" stroke-width="1"/>
<rect x="414.3" y="228.4" width="11" height="1.6" fill="#fff"/>
<text x="404.3" y="239.5" font-size="11.2" textLength="28.2" lengthAdjust="spacingAndGlyphs" fill="#111" stroke="#111" stroke-width="0.25">49.40</text>
<rect x="441.0" y="158.0" width="32.8" height="13" fill="#fff" fill-opacity="0.85" stroke="#d6d6d6" stroke-width="1"/>
<polygon points="451.6,170.5 457.6,177.6 463.6,170.5" fill="#fff" fill-opacity="0.85" stroke="#d6d6d6" stroke-width="1"/>
<rect x="452.1" y="170.0" width="11" height="1.6" fill="#fff"/>
<text x="442.6" y="168.5" font-size="11.2" textLength="28.2" lengthAdjust="spacingAndGlyphs" fill="#111" stroke="#111" stroke-width="0.25">56.60</text>
<rect x="502.5" y="236.3" width="32.8" height="13" fill="#fff" fill-opacity="0.85" stroke="#d6d6d6" stroke-width="1"/>
<polygon points="514.3,248.8 520.3,254.5 526.3,248.8" fill="#fff" fill-opacity="0.85" stroke="#d6d6d6" stroke-width="1"/>
<rect x="514.8" y="248.3" width="11" height="1.6" fill="#fff"/>
<text x="504.1" y="246.8" font-size="11.2" textLength="28.2" lengthAdjust="spacingAndGlyphs" fill="#111" stroke="#111" stroke-width="0.25">44.40</text>
<rect x="489.6" y="320.8" width="32.8" height="13" fill="#fff" fill-opacity="0.85" stroke="#d6d6d6" stroke-width="1"/>
<polygon points="501.6,321.3 507.6,313.8 513.6,321.3" fill="#fff" fill-opacity="0.85" stroke="#d6d6d6" stroke-width="1"/>
<rect x="502.1" y="320.2" width="11" height="1.6" fill="#fff"/>
<text x="491.2" y="331.3" font-size="11.2" textLength="28.2" lengthAdjust="spacingAndGlyphs" fill="#111" stroke="#111" stroke-width="0.25">37.00</text>
<rect x="521.0" y="341.9" width="32.8" height="13" fill="#fff" fill-opacity="0.85" stroke="#d6d6d6" stroke-width="1"/>
<polygon points="532.7,342.4 538.7,335.0 544.7,342.4" fill="#fff" fill-opacity="0.85" stroke="#d6d6d6" stroke-width="1"/>
<rect x="533.2" y="341.3" width="11" height="1.6" fill="#fff"/>
<text x="522.6" y="352.4" font-size="11.2" textLength="28.2" lengthAdjust="spacingAndGlyphs" fill="#111" stroke="#111" stroke-width="0.25">34.60</text>
<rect x="577.7" y="229.9" width="32.8" height="13" fill="#fff" fill-opacity="0.85" stroke="#d6d6d6" stroke-width="1"/>
<polygon points="589.1,242.4 595.1,248.6 601.1,242.4" fill="#fff" fill-opacity="0.85" stroke="#d6d6d6" stroke-width="1"/>
<rect x="589.6" y="241.9" width="11" height="1.6" fill="#fff"/>
<text x="579.3" y="240.4" font-size="11.2" textLength="28.2" lengthAdjust="spacingAndGlyphs" fill="#111" stroke="#111" stroke-width="0.25">45.20</text>
<rect x="565.3" y="308.5" width="32.8" height="13" fill="#fff" fill-opacity="0.85" stroke="#d6d6d6" stroke-width="1"/>
<polygon points="576.7,309.0 582.7,301.2 588.7,309.0" fill="#fff" fill-opacity="0.85" stroke="#d6d6d6" stroke-width="1"/>
<rect x="577.2" y="307.9" width="11" height="1.6" fill="#fff"/>
<text x="566.9" y="319.0" font-size="11.2" textLength="28.2" lengthAdjust="spacingAndGlyphs" fill="#111" stroke="#111" stroke-width="0.25">38.60</text>
<rect x="627.4" y="463.4" width="32.8" height="13" fill="#fff" fill-opacity="0.85" stroke="#d6d6d6" stroke-width="1"/>
<polygon points="639.0,463.9 645.0,456.6 651.0,463.9" fill="#fff" fill-opacity="0.85" stroke="#d6d6d6" stroke-width="1"/>
<rect x="639.5" y="462.8" width="11" height="1.6" fill="#fff"/>
<text x="629.0" y="473.9" font-size="11.2" textLength="28.2" lengthAdjust="spacingAndGlyphs" fill="#111" stroke="#111" stroke-width="0.25">23.60</text>
<rect x="658.6" y="227.2" width="32.8" height="13" fill="#fff" fill-opacity="0.85" stroke="#d6d6d6" stroke-width="1"/>
<polygon points="670.4,239.7 676.4,246.2 682.4,239.7" fill="#fff" fill-opacity="0.85" stroke="#d6d6d6" stroke-width="1"/>
<rect x="670.9" y="239.2" width="11" height="1.6" fill="#fff"/>
<text x="660.2" y="237.7" font-size="11.2" textLength="28.2" lengthAdjust="spacingAndGlyphs" fill="#111" stroke="#111" stroke-width="0.25">45.60</text>
<rect x="683.2" y="314.4" width="32.8" height="13" fill="#fff" fill-opacity="0.85" stroke="#d6d6d6" stroke-width="1"/>
<polygon points="695.3,314.9 701.3,307.2 707.3,314.9" fill="#fff" fill-opacity="0.85" stroke="#d6d6d6" stroke-width="1"/>
<rect x="695.8" y="313.8" width="11" height="1.6" fill="#fff"/>
<text x="684.8" y="324.9" font-size="11.2" textLength="28.2" lengthAdjust="spacingAndGlyphs" fill="#111" stroke="#111" stroke-width="0.25">37.80</text>
<rect x="708.6" y="166.0" width="32.8" height="13" fill="#fff" fill-opacity="0.85" stroke="#d6d6d6" stroke-width="1"/>
<polygon points="720.4,178.5 726.4,184.6 732.4,178.5" fill="#fff" fill-opacity="0.85" stroke="#d6d6d6" stroke-width="1"/>
<rect x="720.9" y="178.0" width="11" height="1.6" fill="#fff"/>
<text x="710.2" y="176.5" font-size="11.2" textLength="28.2" lengthAdjust="spacingAndGlyphs" fill="#111" stroke="#111" stroke-width="0.25">55.40</text>
<rect x="834.0" y="50.4" width="32.8" height="13" fill="#fff" fill-opacity="0.85" stroke="#d6d6d6" stroke-width="1"/>
<polygon points="845.6,62.9 851.6,68.3 857.6,62.9" fill="#fff" fill-opacity="0.85" stroke="#d6d6d6" stroke-width="1"/>
<rect x="846.1" y="62.4" width="11" height="1.6" fill="#fff"/>
<text x="835.6" y="60.9" font-size="11.2" textLength="28.2" lengthAdjust="spacingAndGlyphs" fill="#111" stroke="#111" stroke-width="0.25">80.00</text>
<rect x="859.0" y="110.0" width="32.8" height="13" fill="#fff" fill-opacity="0.85" stroke="#d6d6d6" stroke-width="1"/>
<polygon points="870.3,110.5 876.3,102.5 882.3,110.5" fill="#fff" fill-opacity="0.85" stroke="#d6d6d6" stroke-width="1"/>
<rect x="870.8" y="109.4" width="11" height="1.6" fill="#fff"/>
<text x="860.6" y="120.5" font-size="11.2" textLength="28.2" lengthAdjust="spacingAndGlyphs" fill="#111" stroke="#111" stroke-width="0.25">72.20</text>
<rect x="902.7" y="42.2" width="32.8" height="13" fill="#fff" fill-opacity="0.85" stroke="#d6d6d6" stroke-width="1"/>
<polygon points="913.8,54.7 919.8,61.8 925.8,54.7" fill="#fff" fill-opacity="0.85" stroke="#d6d6d6" stroke-width="1"/>
<rect x="914.3" y="54.2" width="11" height="1.6" fill="#fff"/>
<text x="904.3" y="52.7" font-size="11.2" textLength="28.2" lengthAdjust="spacingAndGlyphs" fill="#111" stroke="#111" stroke-width="0.25">81.60</text>
<rect x="971.3" y="130.0" width="32.8" height="13" fill="#fff" fill-opacity="0.85" stroke="#d6d6d6" stroke-width="1"/>
<polygon points="982.9,130.5 988.9,121.8 994.9,130.5" fill="#fff" fill-opacity="0.85" stroke="#d6d6d6" stroke-width="1"/>
<rect x="983.4" y="129.4" width="11" height="1.6" fill="#fff"/>
<text x="972.9" y="140.5" font-size="11.2" textLength="28.2" lengthAdjust="spacingAndGlyphs" fill="#111" stroke="#111" stroke-width="0.25">67.60</text>
</g>
<g>
<path d="M18 42.5v8M22 42.5v8M25.3 42.5v8" stroke="#111" stroke-width="1.2"/>
<rect x="16.6" y="44" width="3" height="4.5" fill="#111"/><rect x="20.5" y="44" width="3" height="5" fill="#111"/><rect x="23.8" y="44.3" width="2.8" height="4" fill="#fff" stroke="#111" stroke-width="1"/>
<text x="31.4" y="51.4" font-size="12" textLength="78" lengthAdjust="spacingAndGlyphs" fill="#111">$SPXA200R</text>
<text x="117" y="51.4" font-size="12" textLength="44" lengthAdjust="spacingAndGlyphs" fill="#111">(Daily)</text>
<text x="168" y="51.4" font-size="12" textLength="38" lengthAdjust="spacingAndGlyphs" fill="#111">73.40</text>
<rect x="16" y="59.6" width="10.8" height="1.8" fill="#10108c"/>
<text x="29" y="65" font-size="12" fill="#2020a0">MA(50) 69.06</text>
<rect x="16" y="73" width="10.8" height="1.8" fill="#dc1e46"/>
<text x="29" y="78.5" font-size="12" fill="#dc1e46">MA(200) 57.21</text>
</g>
<polygon points="1063.5,95.4 1068.0,88.8 1105.4,88.8 1105.4,102.0 1068.0,102.0" fill="#fff" stroke="#111" stroke-width="1.8"/>
<text x="1087" y="100.0" font-size="13.5" font-weight="bold" text-anchor="middle" fill="#111">73.40</text>
<polygon points="1063.5,114.8 1068.0,108.2 1105.4,108.2 1105.4,121.4 1068.0,121.4" fill="#fff" stroke="#10108c" stroke-width="1.3"/>
<text x="1087" y="119.4" font-size="13" font-weight="normal" text-anchor="middle" fill="#111">69.06</text>
<polygon points="1063.5,174.9 1068.0,168.3 1105.4,168.3 1105.4,181.5 1068.0,181.5" fill="#fff" stroke="#dc1e46" stroke-width="1.3"/>
<text x="1087" y="179.5" font-size="13" font-weight="normal" text-anchor="middle" fill="#111">57.21</text>
<rect x="19.8" y="498.6" width="3.4" height="2.4" fill="#10108c"/>
<rect x="48" y="499.5" width="1.2" height="1.5" fill="#333"/><rect x="112" y="499.5" width="1.2" height="1.5" fill="#333"/><rect x="125" y="499.5" width="1.2" height="1.5" fill="#333"/>
</svg></body></html>
